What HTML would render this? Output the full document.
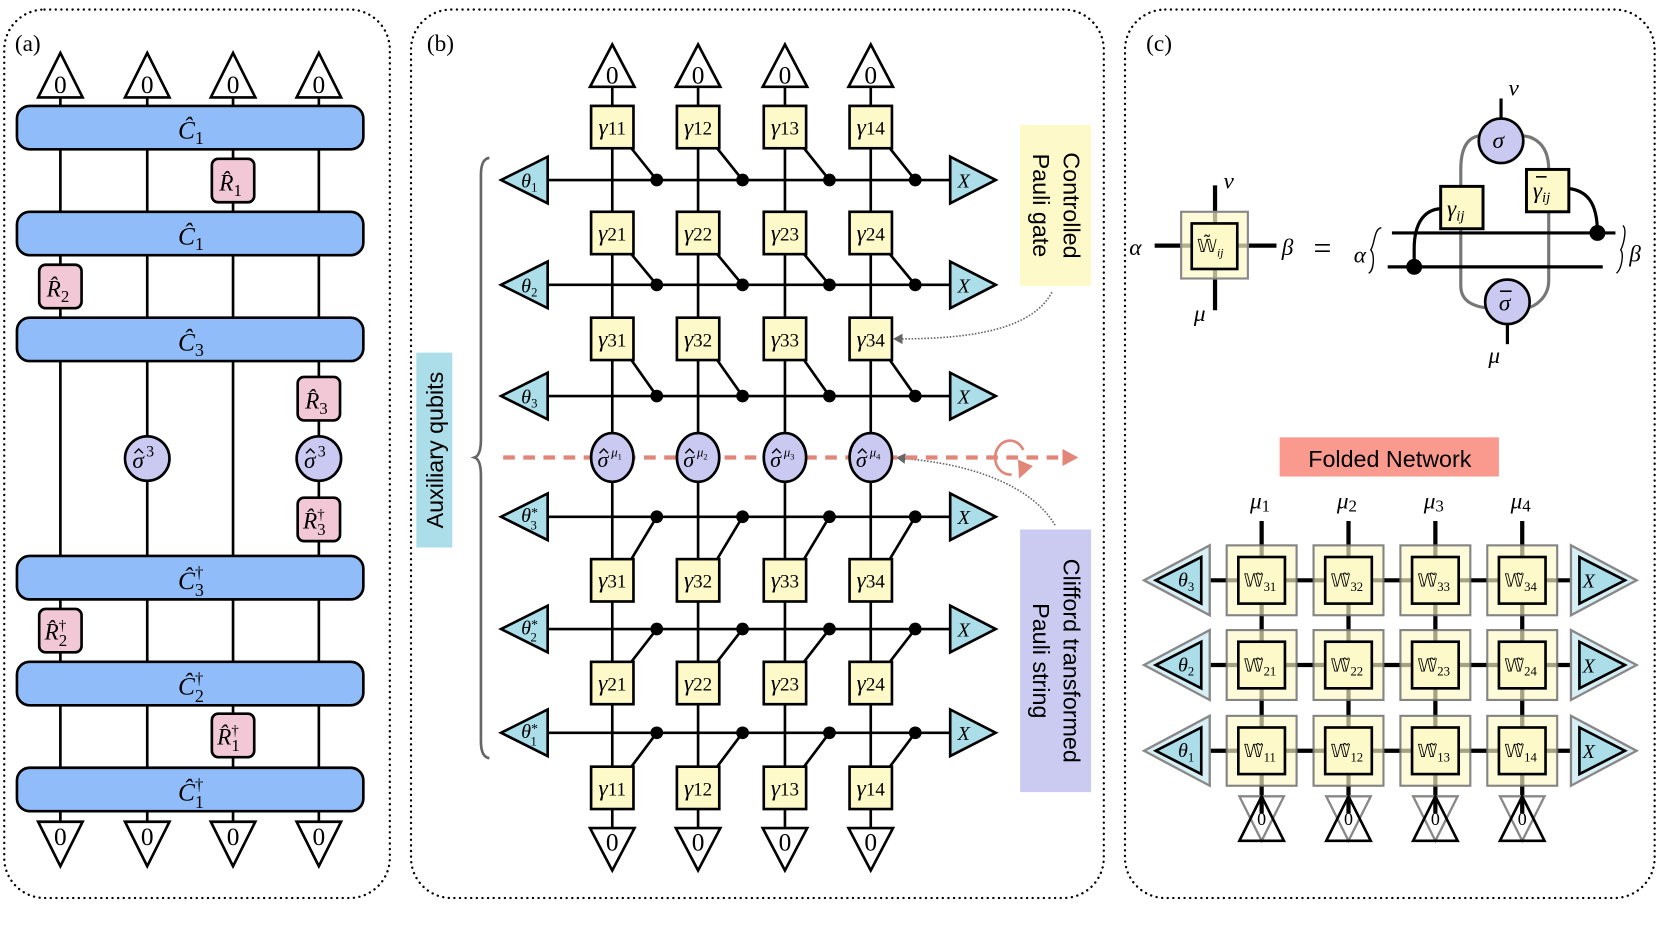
<!DOCTYPE html>
<html><head><meta charset="utf-8"><style>
html,body{margin:0;padding:0;background:#fff;}
svg{display:block;}
text{font-family:"Liberation Serif",serif;}
.m{font-style:italic;}
.s{font-family:"Liberation Sans",sans-serif;}
</style></head><body>
<svg width="1661" height="934" viewBox="0 0 1568 882" preserveAspectRatio="none" xmlns="http://www.w3.org/2000/svg">
<!-- panel borders -->
<g fill="none" stroke="#000" stroke-width="2.2" stroke-dasharray="0.1 5.2" stroke-linecap="round">
<rect x="4" y="9" width="364" height="839" rx="38"/>
<rect x="388" y="9" width="654" height="839" rx="38"/>
<rect x="1062" y="9" width="500" height="839" rx="38"/>
</g>
<text x="14" y="48" font-size="22">(a)</text>
<text x="403" y="48" font-size="22">(b)</text>
<text x="1082" y="48" font-size="22">(c)</text>

<!-- ============ PANEL A ============ -->
<g stroke="#000" stroke-width="2.5">
<line x1="57" y1="90" x2="57" y2="778"/><line x1="139" y1="90" x2="139" y2="778"/>
<line x1="220" y1="90" x2="220" y2="778"/><line x1="301" y1="90" x2="301" y2="778"/>
</g>
<g fill="#fff" stroke="#000" stroke-width="2.5">
<polygon points="57,50 36,92 78,92"/><polygon points="139,50 118,92 160,92"/>
<polygon points="220,50 199,92 241,92"/><polygon points="301,50 280,92 322,92"/>
<polygon points="57,818 36,776 78,776"/><polygon points="139,818 118,776 160,776"/>
<polygon points="220,818 199,776 241,776"/><polygon points="301,818 280,776 322,776"/>
</g>
<g font-size="24" text-anchor="middle">
<text x="57" y="88">0</text><text x="139" y="88">0</text><text x="220" y="88">0</text><text x="301" y="88">0</text>
<text x="57" y="798">0</text><text x="139" y="798">0</text><text x="220" y="798">0</text><text x="301" y="798">0</text>
</g>
<g fill="#90bdfa" stroke="#000" stroke-width="2.5">
<rect x="16" y="100" width="327" height="41" rx="12"/>
<rect x="16" y="200" width="327" height="41" rx="12"/>
<rect x="16" y="300" width="327" height="41" rx="12"/>
<rect x="16" y="525" width="327" height="41" rx="12"/>
<rect x="16" y="625" width="327" height="41" rx="12"/>
<rect x="16" y="725" width="327" height="41" rx="12"/>
</g>
<g font-size="24" class="m">
<text x="168" y="131">Ĉ<tspan font-style="normal" font-size="17" dy="5">1</tspan></text>
<text x="168" y="231">Ĉ<tspan font-style="normal" font-size="17" dy="5">1</tspan></text>
<text x="168" y="331">Ĉ<tspan font-style="normal" font-size="17" dy="5">3</tspan></text>
<text x="168" y="556">Ĉ<tspan font-style="normal" font-size="16" dy="-10">†</tspan><tspan font-style="normal" font-size="17" dx="-8" dy="17">3</tspan></text>
<text x="168" y="656">Ĉ<tspan font-style="normal" font-size="16" dy="-10">†</tspan><tspan font-style="normal" font-size="17" dx="-8" dy="17">2</tspan></text>
<text x="168" y="756">Ĉ<tspan font-style="normal" font-size="16" dy="-10">†</tspan><tspan font-style="normal" font-size="17" dx="-8" dy="17">1</tspan></text>
</g>
<g fill="#f2c7d6" stroke="#000" stroke-width="2.5">
<rect x="200" y="150" width="40" height="41" rx="6"/>
<rect x="37" y="250" width="40" height="41" rx="6"/>
<rect x="281" y="356" width="40" height="41" rx="6"/>
<rect x="281" y="470" width="40" height="41" rx="6"/>
<rect x="37" y="575" width="40" height="41" rx="6"/>
<rect x="200" y="674" width="40" height="41" rx="6"/>
</g>
<g fill="#c9c9f1" stroke="#000" stroke-width="2.5">
<circle cx="139" cy="433" r="21"/><circle cx="301" cy="433" r="21"/>
</g>
<g font-size="22" class="m">
<text x="207" y="180">R̂<tspan font-style="normal" font-size="16" dy="5">1</tspan></text>
<text x="44" y="280">R̂<tspan font-style="normal" font-size="16" dy="5">2</tspan></text>
<text x="288" y="386">R̂<tspan font-style="normal" font-size="16" dy="5">3</tspan></text>
<text x="286" y="499">R̂<tspan font-style="normal" font-size="14" dy="-9">†</tspan><tspan font-style="normal" font-size="16" dx="-7" dy="15">3</tspan></text>
<text x="42" y="604">R̂<tspan font-style="normal" font-size="14" dy="-9">†</tspan><tspan font-style="normal" font-size="16" dx="-7" dy="15">2</tspan></text>
<text x="205" y="703">R̂<tspan font-style="normal" font-size="14" dy="-9">†</tspan><tspan font-style="normal" font-size="16" dx="-7" dy="15">1</tspan></text>
<text x="125" y="442">σ</text><text x="287" y="442">σ</text>
</g>
<g font-size="15"><text x="138" y="431">3</text><text x="300" y="431">3</text></g>
<g fill="none" stroke="#000" stroke-width="1.3">
<path d="M127,428 l4,-4 l4,4"/><path d="M289,428 l4,-4 l4,4"/>
</g>

<!-- ============ PANEL B ============ -->
<rect x="393" y="333" width="34" height="184" fill="#acdeea"/>
<text class="s" font-size="22" transform="translate(418,425) rotate(-90)" text-anchor="middle">Auxiliary qubits</text>
<path d="M462,149 Q454,150 454,165 L454,415 Q454,430 448,432 Q454,434 454,449 L454,700 Q454,715 462,716" fill="none" stroke="#666" stroke-width="2.5"/>
<rect x="963" y="118" width="67" height="152" fill="#fdf9c8"/>
<text class="s" font-size="22" transform="translate(1004,194) rotate(90)" text-anchor="middle">Controlled</text>
<text class="s" font-size="22" transform="translate(975,194) rotate(90)" text-anchor="middle">Pauli gate</text>
<rect x="963" y="500" width="67" height="248" fill="#cbcbf2"/>
<text class="s" font-size="22" transform="translate(1004,624) rotate(90)" text-anchor="middle">Clifford transformed</text>
<text class="s" font-size="22" transform="translate(975,624) rotate(90)" text-anchor="middle">Pauli string</text>
<path d="M993,276 C975,310 920,320 850,320" fill="none" stroke="#666" stroke-width="1.5" stroke-dasharray="1.5 1.5"/>
<polygon points="843,320 852,315 852,325" fill="#666"/>
<path d="M996,496 C975,460 920,438 852,433" fill="none" stroke="#666" stroke-width="1.5" stroke-dasharray="1.5 1.5"/>
<polygon points="846,432 855,428 854,438" fill="#666"/>
<line x1="475" y1="432" x2="1003" y2="432" stroke="#e2867a" stroke-width="4" stroke-dasharray="11 8"/>
<polygon points="1018,432 1003,424 1003,440" fill="#e2867a"/>
<path d="M966,425 A14,16 0 1 0 955,448" fill="none" stroke="#e2867a" stroke-width="2.5"/>
<polygon points="961,434 975,440 962,452" fill="#e2867a"/>

<g stroke="#000" stroke-width="2.5">
<line x1="578" y1="80" x2="578" y2="784"/><line x1="659" y1="80" x2="659" y2="784"/>
<line x1="741" y1="80" x2="741" y2="784"/><line x1="822" y1="80" x2="822" y2="784"/>
<line x1="515" y1="170" x2="899" y2="170"/><line x1="515" y1="269" x2="899" y2="269"/>
<line x1="515" y1="374" x2="899" y2="374"/><line x1="515" y1="488" x2="899" y2="488"/>
<line x1="515" y1="594" x2="899" y2="594"/><line x1="515" y1="692" x2="899" y2="692"/>
<line x1="596" y1="140" x2="620" y2="170"/><line x1="677" y1="140" x2="701" y2="170"/>
<line x1="759" y1="140" x2="783" y2="170"/><line x1="840" y1="140" x2="864" y2="170"/>
<line x1="596" y1="240" x2="620" y2="269"/><line x1="677" y1="240" x2="701" y2="269"/>
<line x1="759" y1="240" x2="783" y2="269"/><line x1="840" y1="240" x2="864" y2="269"/>
<line x1="596" y1="340" x2="620" y2="374"/><line x1="677" y1="340" x2="701" y2="374"/>
<line x1="759" y1="340" x2="783" y2="374"/><line x1="840" y1="340" x2="864" y2="374"/>
<line x1="596" y1="528" x2="620" y2="488"/><line x1="677" y1="528" x2="701" y2="488"/>
<line x1="759" y1="528" x2="783" y2="488"/><line x1="840" y1="528" x2="864" y2="488"/>
<line x1="596" y1="625" x2="620" y2="594"/><line x1="677" y1="625" x2="701" y2="594"/>
<line x1="759" y1="625" x2="783" y2="594"/><line x1="840" y1="625" x2="864" y2="594"/>
<line x1="596" y1="724" x2="620" y2="692"/><line x1="677" y1="724" x2="701" y2="692"/>
<line x1="759" y1="724" x2="783" y2="692"/><line x1="840" y1="724" x2="864" y2="692"/>
</g>
<g fill="#000">
<circle cx="620" cy="170" r="6"/><circle cx="701" cy="170" r="6"/><circle cx="783" cy="170" r="6"/><circle cx="864" cy="170" r="6"/>
<circle cx="620" cy="269" r="6"/><circle cx="701" cy="269" r="6"/><circle cx="783" cy="269" r="6"/><circle cx="864" cy="269" r="6"/>
<circle cx="620" cy="374" r="6"/><circle cx="701" cy="374" r="6"/><circle cx="783" cy="374" r="6"/><circle cx="864" cy="374" r="6"/>
<circle cx="620" cy="488" r="6"/><circle cx="701" cy="488" r="6"/><circle cx="783" cy="488" r="6"/><circle cx="864" cy="488" r="6"/>
<circle cx="620" cy="594" r="6"/><circle cx="701" cy="594" r="6"/><circle cx="783" cy="594" r="6"/><circle cx="864" cy="594" r="6"/>
<circle cx="620" cy="692" r="6"/><circle cx="701" cy="692" r="6"/><circle cx="783" cy="692" r="6"/><circle cx="864" cy="692" r="6"/>
</g>
<g fill="#fff" stroke="#000" stroke-width="2.5">
<polygon points="578,42 557,82 599,82"/><polygon points="659,42 638,82 680,82"/>
<polygon points="741,42 720,82 762,82"/><polygon points="822,42 801,82 843,82"/>
<polygon points="578,822 557,782 599,782"/><polygon points="659,822 638,782 680,782"/>
<polygon points="741,822 720,782 762,782"/><polygon points="822,822 801,782 843,782"/>
</g>
<g font-size="24" text-anchor="middle">
<text x="578" y="79">0</text><text x="659" y="79">0</text><text x="741" y="79">0</text><text x="822" y="79">0</text>
<text x="578" y="803">0</text><text x="659" y="803">0</text><text x="741" y="803">0</text><text x="822" y="803">0</text>
</g>
<g fill="#acdeea" stroke="#000" stroke-width="2.5">
<polygon points="473,170 517,148 517,192"/><polygon points="473,269 517,247 517,291"/><polygon points="473,374 517,352 517,396"/>
<polygon points="473,488 517,466 517,510"/><polygon points="473,594 517,572 517,616"/><polygon points="473,692 517,670 517,714"/>
<polygon points="940,170 897,148 897,192"/><polygon points="940,269 897,247 897,291"/><polygon points="940,374 897,352 897,396"/>
<polygon points="940,488 897,466 897,510"/><polygon points="940,594 897,572 897,616"/><polygon points="940,692 897,670 897,714"/>
</g>
<g font-size="19" class="m">
<text x="492" y="177">θ<tspan font-style="normal" font-size="12" dy="4">1</tspan></text>
<text x="492" y="276">θ<tspan font-style="normal" font-size="12" dy="4">2</tspan></text>
<text x="492" y="381">θ<tspan font-style="normal" font-size="12" dy="4">3</tspan></text>
<text x="492" y="493">θ<tspan font-style="normal" font-size="13" dy="-5">*</tspan><tspan font-style="normal" font-size="12" dx="-7" dy="12">3</tspan></text>
<text x="492" y="599">θ<tspan font-style="normal" font-size="13" dy="-5">*</tspan><tspan font-style="normal" font-size="12" dx="-7" dy="12">2</tspan></text>
<text x="492" y="697">θ<tspan font-style="normal" font-size="13" dy="-5">*</tspan><tspan font-style="normal" font-size="12" dx="-7" dy="12">1</tspan></text>
<text x="904" y="177">X</text><text x="904" y="276">X</text><text x="904" y="381">X</text>
<text x="904" y="495">X</text><text x="904" y="601">X</text><text x="904" y="699">X</text>
</g>
<g fill="#fdf9c8" stroke="#000" stroke-width="2.5">
<rect x="558" y="100" width="40" height="40"/><rect x="639" y="100" width="40" height="40"/><rect x="721" y="100" width="40" height="40"/><rect x="802" y="100" width="40" height="40"/>
<rect x="558" y="200" width="40" height="40"/><rect x="639" y="200" width="40" height="40"/><rect x="721" y="200" width="40" height="40"/><rect x="802" y="200" width="40" height="40"/>
<rect x="558" y="300" width="40" height="40"/><rect x="639" y="300" width="40" height="40"/><rect x="721" y="300" width="40" height="40"/><rect x="802" y="300" width="40" height="40"/>
<rect x="558" y="528" width="40" height="40"/><rect x="639" y="528" width="40" height="40"/><rect x="721" y="528" width="40" height="40"/><rect x="802" y="528" width="40" height="40"/>
<rect x="558" y="625" width="40" height="40"/><rect x="639" y="625" width="40" height="40"/><rect x="721" y="625" width="40" height="40"/><rect x="802" y="625" width="40" height="40"/>
<rect x="558" y="724" width="40" height="40"/><rect x="639" y="724" width="40" height="40"/><rect x="721" y="724" width="40" height="40"/><rect x="802" y="724" width="40" height="40"/>
</g>
<g font-size="22" text-anchor="middle" class="m">
<text x="578" y="127">γ<tspan font-style="normal" font-size="18">11</tspan></text><text x="659" y="127">γ<tspan font-style="normal" font-size="18">12</tspan></text><text x="741" y="127">γ<tspan font-style="normal" font-size="18">13</tspan></text><text x="822" y="127">γ<tspan font-style="normal" font-size="18">14</tspan></text>
<text x="578" y="227">γ<tspan font-style="normal" font-size="18">21</tspan></text><text x="659" y="227">γ<tspan font-style="normal" font-size="18">22</tspan></text><text x="741" y="227">γ<tspan font-style="normal" font-size="18">23</tspan></text><text x="822" y="227">γ<tspan font-style="normal" font-size="18">24</tspan></text>
<text x="578" y="327">γ<tspan font-style="normal" font-size="18">31</tspan></text><text x="659" y="327">γ<tspan font-style="normal" font-size="18">32</tspan></text><text x="741" y="327">γ<tspan font-style="normal" font-size="18">33</tspan></text><text x="822" y="327">γ<tspan font-style="normal" font-size="18">34</tspan></text>
<text x="578" y="555">γ<tspan font-style="normal" font-size="18">31</tspan></text><text x="659" y="555">γ<tspan font-style="normal" font-size="18">32</tspan></text><text x="741" y="555">γ<tspan font-style="normal" font-size="18">33</tspan></text><text x="822" y="555">γ<tspan font-style="normal" font-size="18">34</tspan></text>
<text x="578" y="652">γ<tspan font-style="normal" font-size="18">21</tspan></text><text x="659" y="652">γ<tspan font-style="normal" font-size="18">22</tspan></text><text x="741" y="652">γ<tspan font-style="normal" font-size="18">23</tspan></text><text x="822" y="652">γ<tspan font-style="normal" font-size="18">24</tspan></text>
<text x="578" y="751">γ<tspan font-style="normal" font-size="18">11</tspan></text><text x="659" y="751">γ<tspan font-style="normal" font-size="18">12</tspan></text><text x="741" y="751">γ<tspan font-style="normal" font-size="18">13</tspan></text><text x="822" y="751">γ<tspan font-style="normal" font-size="18">14</tspan></text>
</g>
<g fill="#c9c9f1" stroke="#000" stroke-width="2.5">
<ellipse cx="578" cy="432" rx="20" ry="23"/><ellipse cx="659" cy="432" rx="20" ry="23"/>
<ellipse cx="741" cy="432" rx="20" ry="23"/><ellipse cx="822" cy="432" rx="20" ry="23"/>
</g>
<g class="m" font-size="21">
<text x="564" y="441">σ</text><text x="645" y="441">σ</text><text x="727" y="441">σ</text><text x="808" y="441">σ</text>
</g>
<g class="m" font-size="12">
<text x="577" y="431">μ<tspan font-style="normal" font-size="8" dy="3">1</tspan></text>
<text x="658" y="431">μ<tspan font-style="normal" font-size="8" dy="3">2</tspan></text>
<text x="740" y="431">μ<tspan font-style="normal" font-size="8" dy="3">3</tspan></text>
<text x="821" y="431">μ<tspan font-style="normal" font-size="8" dy="3">4</tspan></text>
</g>
<g fill="none" stroke="#000" stroke-width="1.3">
<path d="M566,428 l4,-4 l4,4"/><path d="M647,428 l4,-4 l4,4"/><path d="M729,428 l4,-4 l4,4"/><path d="M810,428 l4,-4 l4,4"/>
</g>

<!-- ============ PANEL C top ============ -->
<g stroke="#000" stroke-width="4">
<line x1="1147" y1="175" x2="1147" y2="293"/>
<line x1="1090" y1="232" x2="1205" y2="232"/>
</g>
<rect x="1115" y="200" width="63" height="63" fill="rgba(253,249,200,0.7)" stroke="#888" stroke-width="2"/>
<rect x="1125" y="211" width="43" height="43" fill="#fdf9c8" stroke="#000" stroke-width="2.5"/>
<text x="1130" y="238" font-size="17">𝕎̃<tspan class="m" font-size="11" dy="4">ij</tspan></text>
<g class="m" font-size="22">
<text x="1155" y="178">ν</text><text x="1127" y="303">μ</text>
<text x="1066" y="241">α</text><text x="1210" y="241">β</text>
<text x="1424" y="90">ν</text><text x="1405" y="343">μ</text>
<text x="1278" y="248">α</text><text x="1538" y="247">β</text>
</g>
<text x="1240" y="244" font-size="30">=</text>
<g fill="none" stroke="#000" stroke-width="1.3">
<path d="M1304,215 C1297,216 1298,230 1294,236 C1298,240 1297,256 1292,258"/>
<path d="M1532,213 C1536,216 1533,230 1530,236 C1533,240 1531,254 1526,258"/>
</g>
<g fill="none" stroke="#777" stroke-width="3">
<path d="M1400,128 C1385,128 1379,140 1379,160 L1379,175"/>
<path d="M1379,215 L1379,270 C1379,285 1392,290 1406,291"/>
<path d="M1434,128 C1450,128 1462,138 1462,160"/>
<path d="M1462,200 L1462,265 C1462,280 1450,290 1440,291"/>
</g>
<g stroke="#000" stroke-width="3">
<line x1="1417" y1="93" x2="1417" y2="115"/>
<line x1="1423" y1="305" x2="1423" y2="325"/>
<line x1="1314" y1="220" x2="1525" y2="220"/>
<line x1="1310" y1="252" x2="1513" y2="252"/>
</g>
<g fill="none" stroke="#000" stroke-width="3">
<path d="M1335,252 L1335,235 C1335,210 1345,198 1360,197"/>
<path d="M1481,178 C1497,180 1508,190 1508,220"/>
</g>
<circle cx="1335" cy="252" r="7.5"/><circle cx="1508" cy="220" r="7.5"/>
<g fill="#fdf9c8" stroke="#000" stroke-width="2.8">
<rect x="1360" y="176" width="40" height="40"/><rect x="1441" y="160" width="40" height="40"/>
</g>
<g fill="#c9c9f1" stroke="#000" stroke-width="2.5">
<circle cx="1417" cy="133" r="21"/><circle cx="1423" cy="285" r="21"/>
</g>
<g class="m" font-size="22">
<text x="1409" y="140">σ</text><text x="1415" y="293">σ</text>
<text x="1366" y="204">γ<tspan font-size="14" dy="4">ij</tspan></text>
<text x="1447" y="187">γ<tspan font-size="14" dy="4">ij</tspan></text>
</g>
<g stroke="#000" stroke-width="1.5">
<line x1="1416" y1="275" x2="1427" y2="275"/><line x1="1450" y1="167" x2="1460" y2="167"/>
</g>

<!-- ============ Folded network ============ -->
<rect x="1208" y="413" width="207" height="37" fill="#fa9a8f"/>
<text class="s" x="1312" y="441" font-size="22" text-anchor="middle">Folded Network</text>
<g class="m" font-size="22">
<text x="1180" y="480">μ<tspan font-style="normal" font-size="16" dy="3">1</tspan></text>
<text x="1262" y="480">μ<tspan font-style="normal" font-size="16" dy="3">2</tspan></text>
<text x="1344" y="480">μ<tspan font-style="normal" font-size="16" dy="3">3</tspan></text>
<text x="1426" y="480">μ<tspan font-style="normal" font-size="16" dy="3">4</tspan></text>
</g>
<g stroke="#000" stroke-width="4">
<line x1="1191" y1="492" x2="1191" y2="768"/><line x1="1273" y1="492" x2="1273" y2="768"/>
<line x1="1355" y1="492" x2="1355" y2="768"/><line x1="1437" y1="492" x2="1437" y2="768"/>
<line x1="1140" y1="548" x2="1490" y2="548"/><line x1="1140" y1="628" x2="1490" y2="628"/><line x1="1140" y1="709" x2="1490" y2="709"/>
</g>
<g fill="rgba(253,249,200,0.65)" stroke="rgba(110,110,110,0.85)" stroke-width="2">
<rect x="1158" y="515" width="66" height="66"/><rect x="1240" y="515" width="66" height="66"/><rect x="1322" y="515" width="66" height="66"/><rect x="1404" y="515" width="66" height="66"/>
<rect x="1158" y="595" width="66" height="66"/><rect x="1240" y="595" width="66" height="66"/><rect x="1322" y="595" width="66" height="66"/><rect x="1404" y="595" width="66" height="66"/>
<rect x="1158" y="676" width="66" height="66"/><rect x="1240" y="676" width="66" height="66"/><rect x="1322" y="676" width="66" height="66"/><rect x="1404" y="676" width="66" height="66"/>
</g>
<g fill="#fdf9c8" stroke="#000" stroke-width="2.5">
<rect x="1169" y="526" width="44" height="44"/><rect x="1251" y="526" width="44" height="44"/><rect x="1333" y="526" width="44" height="44"/><rect x="1415" y="526" width="44" height="44"/>
<rect x="1169" y="606" width="44" height="44"/><rect x="1251" y="606" width="44" height="44"/><rect x="1333" y="606" width="44" height="44"/><rect x="1415" y="606" width="44" height="44"/>
<rect x="1169" y="687" width="44" height="44"/><rect x="1251" y="687" width="44" height="44"/><rect x="1333" y="687" width="44" height="44"/><rect x="1415" y="687" width="44" height="44"/>
</g>
<g font-size="17">
<text x="1174" y="554">𝕎̃<tspan font-size="12" dy="4">31</tspan></text><text x="1256" y="554">𝕎̃<tspan font-size="12" dy="4">32</tspan></text><text x="1338" y="554">𝕎̃<tspan font-size="12" dy="4">33</tspan></text><text x="1420" y="554">𝕎̃<tspan font-size="12" dy="4">34</tspan></text>
<text x="1174" y="634">𝕎̃<tspan font-size="12" dy="4">21</tspan></text><text x="1256" y="634">𝕎̃<tspan font-size="12" dy="4">22</tspan></text><text x="1338" y="634">𝕎̃<tspan font-size="12" dy="4">23</tspan></text><text x="1420" y="634">𝕎̃<tspan font-size="12" dy="4">24</tspan></text>
<text x="1174" y="715">𝕎̃<tspan font-size="12" dy="4">11</tspan></text><text x="1256" y="715">𝕎̃<tspan font-size="12" dy="4">12</tspan></text><text x="1338" y="715">𝕎̃<tspan font-size="12" dy="4">13</tspan></text><text x="1420" y="715">𝕎̃<tspan font-size="12" dy="4">14</tspan></text>
</g>
<g fill="#d8eff5" stroke="#888" stroke-width="2.2">
<polygon points="1080,548 1142,515 1142,581"/><polygon points="1080,628 1142,595 1142,661"/><polygon points="1080,709 1142,676 1142,742"/>
<polygon points="1545,548 1483,515 1483,581"/><polygon points="1545,628 1483,595 1483,661"/><polygon points="1545,709 1483,676 1483,742"/>
</g>
<g fill="#acdeea" stroke="#000" stroke-width="2.5">
<polygon points="1091,548 1134,526 1134,570"/><polygon points="1091,628 1134,606 1134,650"/><polygon points="1091,709 1134,687 1134,731"/>
<polygon points="1534,548 1491,526 1491,570"/><polygon points="1534,628 1491,606 1491,650"/><polygon points="1534,709 1491,687 1491,731"/>
</g>
<g class="m" font-size="19">
<text x="1112" y="554">θ<tspan font-style="normal" font-size="12" dy="4">3</tspan></text>
<text x="1112" y="634">θ<tspan font-style="normal" font-size="12" dy="4">2</tspan></text>
<text x="1112" y="715">θ<tspan font-style="normal" font-size="12" dy="4">1</tspan></text>
<text x="1494" y="555">X</text><text x="1494" y="635">X</text><text x="1494" y="716">X</text>
</g>
<g fill="none" stroke="#888" stroke-width="2.2">
<polygon points="1170,752 1212,752 1191,794"/><polygon points="1252,752 1294,752 1273,794"/>
<polygon points="1334,752 1376,752 1355,794"/><polygon points="1416,752 1458,752 1437,794"/>
</g>
<g fill="none" stroke="#000" stroke-width="2.5">
<polygon points="1191,752 1170,794 1212,794"/><polygon points="1273,752 1252,794 1294,794"/>
<polygon points="1355,752 1334,794 1376,794"/><polygon points="1437,752 1416,794 1458,794"/>
</g>
<g font-size="17" text-anchor="middle">
<text x="1191" y="779">0</text><text x="1273" y="779">0</text><text x="1355" y="779">0</text><text x="1437" y="779">0</text>
</g>
</svg>
</body></html>
